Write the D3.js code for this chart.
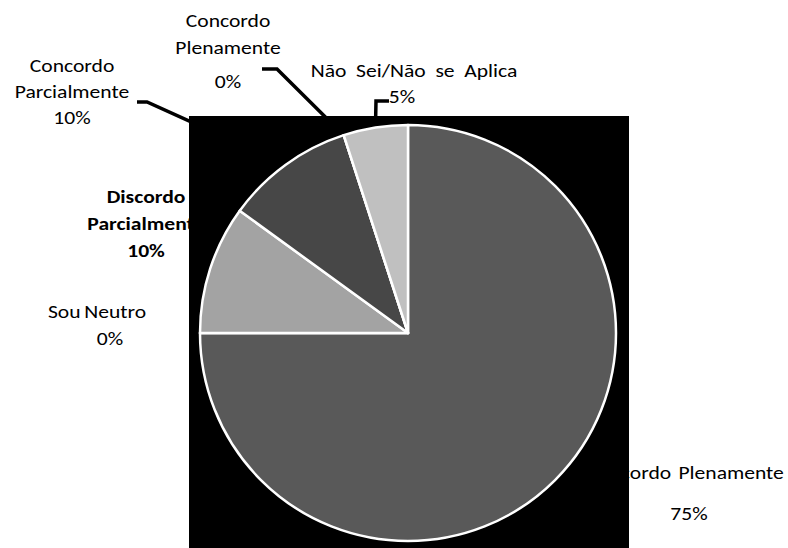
<!DOCTYPE html>
<html>
<head>
<meta charset="utf-8">
<script src="https://cdn.jsdelivr.net/npm/d3@7"></script>
<style>
  html, body { margin: 0; padding: 0; background: #fff; }
  svg { display: block; }
  text { font-family: Calibri, Carlito, Lato, "Open Sans", sans-serif; fill: #000; }
</style>
</head>
<body>
<svg id="chart" width="788" height="548"></svg>
<script>
// Survey answers, in clockwise order from 12 o'clock
const categories = [
  "Discordo Plenamente",
  "Sou Neutro",
  "Discordo Parcialmente",
  "Concordo Parcialmente",
  "Concordo Plenamente",
  "Não Sei/Não se Aplica"
];
const percentages = [75, 0, 10, 10, 0, 5];
const sliceColors = ["#595959", "#7f7f7f", "#a3a3a3", "#474747", "#262626", "#c0c0c0"];

// Label text lines (category split over lines, then the value line)
const labelLines = [
  ["Discordo Plenamente"],
  ["Sou Neutro"],
  ["Discordo", "Parcialmente"],
  ["Concordo", "Parcialmente"],
  ["Concordo", "Plenamente"],
  ["Não Sei/Não se Aplica"]
];

// Label placement: x centre, baseline for each line, weight, word gap, optional leader elbow
const labelLayout = [
  { x: 689, ys: [479, 520], valueX: 689, bold: false, gap: 2 },
  { x: 97,  ys: [318, 345], valueX: 110, bold: false, gap: -1 },
  { x: 146, ys: [203, 230, 257], bold: true, gap: 0 },
  { x: 72,  ys: [72, 98, 124], bold: false, gap: 0, leader: [[137, 102], [147, 102]] },
  { x: 228, ys: [27, 54, 88], bold: false, gap: 0, leader: [[262, 69], [277, 69]] },
  { x: 414, ys: [77, 103], valueX: 402, bold: false, gap: 4, leader: [[389, 101], [376, 101]] }
];

const plot = { x0: 189, y0: 116, x1: 629, y1: 548 };
const cx = 408, cy = 333, R = 208;
const fontSize = 18, stretchX = 1.2;

const svg = d3.select("#chart");

const data = categories.map((c, i) => ({ category: c, value: percentages[i], i }));
const pie = d3.pie().value(d => d.value).sort(null)
  .startAngle(0).endAngle(2 * Math.PI);
const arcs = pie(data);
const arc = d3.arc().innerRadius(0).outerRadius(R);

// Labels and leader lines sit beneath the plot area
const labelG = svg.append("g");
arcs.forEach((a, k) => {
  const L = labelLayout[k];
  const lines = labelLines[k].concat([percentages[k] + "%"]);
  lines.forEach((t, j) => {
    const isValue = j === lines.length - 1;
    const x = isValue && L.valueX ? L.valueX : L.x;
    labelG.append("g")
      .attr("transform", `translate(${x},${L.ys[j]}) scale(${stretchX},1)`)
      .append("text")
      .attr("text-anchor", "middle")
      .attr("font-size", fontSize)
      .attr("word-spacing", L.gap)
      .attr("font-weight", L.bold ? "bold" : "normal")
      .text(t);
  });
  if (L.leader) {
    const mid = (a.startAngle + a.endAngle) / 2;
    const edge = [cx + R * Math.sin(mid), cy - R * Math.cos(mid)];
    const pts = L.leader.concat([edge]);
    labelG.append("path")
      .attr("d", d3.line()(pts))
      .attr("fill", "none")
      .attr("stroke", "#000")
      .attr("stroke-width", 3.5)
      .attr("stroke-linejoin", "miter");
  }
});

// Plot area
svg.append("rect")
  .attr("x", plot.x0).attr("y", plot.y0)
  .attr("width", plot.x1 - plot.x0).attr("height", plot.y1 - plot.y0)
  .attr("fill", "#000");

// Slices
svg.append("g")
  .attr("transform", `translate(${cx},${cy})`)
  .selectAll("path")
  .data(arcs)
  .join("path")
  .attr("d", arc)
  .attr("fill", d => sliceColors[d.data.i])
  .attr("stroke", "#fff")
  .attr("stroke-width", 2.5)
  .attr("stroke-linejoin", "round");
</script>
</body>
</html>
